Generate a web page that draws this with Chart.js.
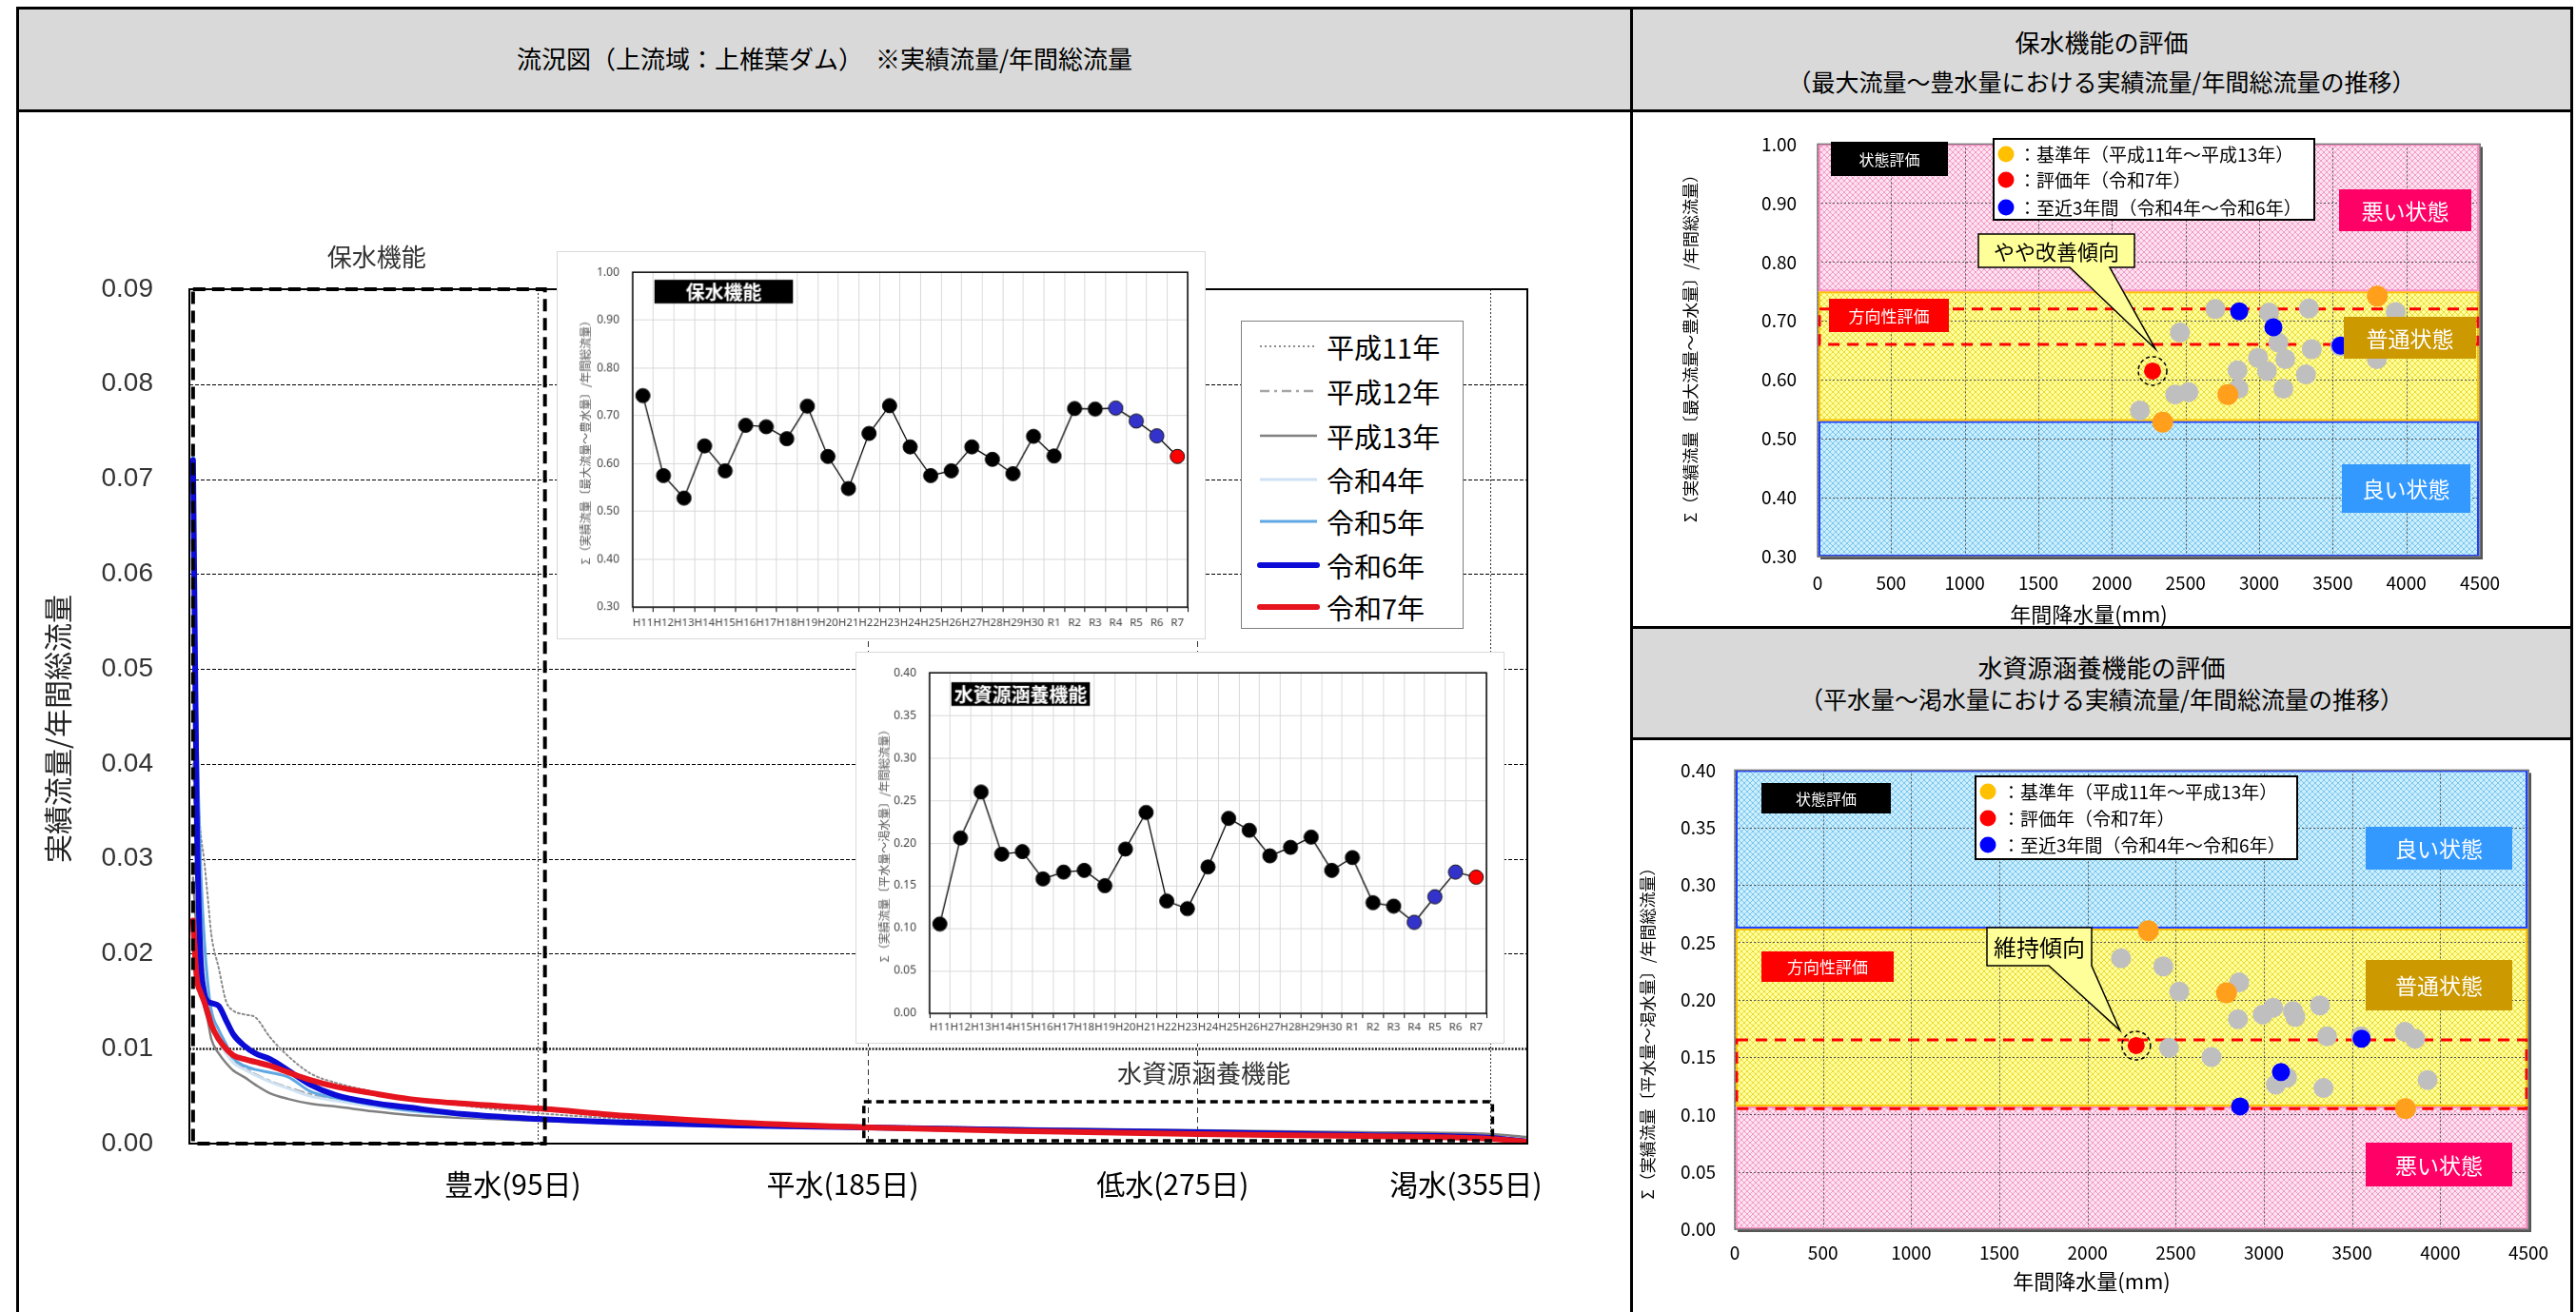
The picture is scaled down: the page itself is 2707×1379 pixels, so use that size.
<!DOCTYPE html>
<html lang="ja">
<head>
<meta charset="utf-8">
<title>流況図（上流域：上椎葉ダム）</title>
<script src="https://cdn.jsdelivr.net/npm/chart.js@4.4.1/dist/chart.umd.min.js"></script>
<style>
  html, body { margin: 0; padding: 0; background: #fff; }
  body { position: relative; width: 2707px; height: 1379px; overflow: hidden; font-family: "Noto Sans CJK JP", sans-serif; color: #000; }
  .box { position: absolute; box-sizing: border-box; }
  .frame { border: 3px solid #000; }
  .head { background: #d9d9d9; border: 3px solid #000; }
  .ttl { position: absolute; left: 0; right: 0; text-align: center; white-space: nowrap; line-height: 1; }
  canvas { position: absolute; }
  .inset { background: #fff; border: 1px solid #d9d9d9; z-index: 2; }
  #flowLegend { position: absolute; left: 1304px; top: 337px; width: 234px; height: 324px; box-sizing: border-box; border: 1px solid #808080; background: #fff; z-index: 2; }
  #flowLegend .row { position: absolute; left: 0; height: 40px; width: 100%; }
  #flowLegend svg { position: absolute; left: 16px; top: 14px; }
  #flowLegend span { position: absolute; left: 89px; top: 2px; font-size: 29px; line-height: 36px; white-space: nowrap; }
</style>
</head>
<body>

<div class="box frame" style="left:17px;top:7px;width:1699px;height:1420px;"></div>
<div class="box frame" style="left:1713px;top:7px;width:991px;height:1420px;"></div>

<div class="box head" style="left:17px;top:7px;width:1699px;height:111px;">
  <div class="ttl" style="top:38px;font-size:26px;">流況図（上流域：上椎葉ダム）　※実績流量/年間総流量</div>
</div>
<div class="box head" style="left:1713px;top:7px;width:991px;height:111px;">
  <div class="ttl" style="top:21px;font-size:26px;">保水機能の評価</div>
  <div class="ttl" style="top:63px;font-size:25px;">（最大流量～豊水量における実績流量/年間総流量の推移）</div>
</div>
<div class="box head" style="left:1713px;top:658px;width:991px;height:120px;">
  <div class="ttl" style="top:27px;font-size:26px;">水資源涵養機能の評価</div>
  <div class="ttl" style="top:61px;font-size:25px;">（平水量～渇水量における実績流量/年間総流量の推移）</div>
</div>

<canvas id="flowChart" width="1690" height="1261" style="left:20px;top:118px;"></canvas>
<div id="flowLegend"></div>
<canvas id="hozuiTrend" class="inset" width="682" height="408" style="left:585px;top:264px;"></canvas>
<canvas id="kanyoTrend" class="inset" width="682" height="412" style="left:899px;top:685px;"></canvas>
<canvas id="hozuiScatter" width="985" height="540" style="left:1716px;top:118px;"></canvas>
<canvas id="kanyoScatter" width="985" height="598" style="left:1716px;top:778px;"></canvas>

<script>
// ---- 流況曲線（実績流量/年間総流量）----
const durationDays = [1, 2, 3, 4, 5, 6, 8, 10, 12, 15, 18, 22, 27, 33, 40, 50, 60, 75, 95, 120, 150, 185, 230, 275, 320, 355, 365];
const flowYears = ['平成11年', '平成12年', '平成13年', '令和4年', '令和5年', '令和6年', '令和7年'];
const flowH11 = [0.050, 0.040, 0.033, 0.030, 0.026, 0.022, 0.0185, 0.0150, 0.0140, 0.0136, 0.0133, 0.0112, 0.0092, 0.0074, 0.0064, 0.0055, 0.0048, 0.0040, 0.0032, 0.0026, 0.0022, 0.0019, 0.0016, 0.0013, 0.0010, 0.0007, 0.0004];
const flowH12 = [0.040, 0.030, 0.022, 0.018, 0.015, 0.013, 0.011, 0.0095, 0.0088, 0.0080, 0.0073, 0.0066, 0.0059, 0.0052, 0.0046, 0.0040, 0.0035, 0.0030, 0.0026, 0.0023, 0.0020, 0.0018, 0.0015, 0.0013, 0.0011, 0.0008, 0.0005];
const flowH13 = [0.028, 0.022, 0.017, 0.0145, 0.013, 0.011, 0.0095, 0.0085, 0.0077, 0.0070, 0.0062, 0.0053, 0.0047, 0.0042, 0.0039, 0.0034, 0.0030, 0.0027, 0.0024, 0.0021, 0.0019, 0.0018, 0.0016, 0.0014, 0.0012, 0.0010, 0.0007];
const flowR4 = [0.068, 0.040, 0.027, 0.020, 0.016, 0.013, 0.011, 0.0095, 0.0085, 0.0078, 0.0072, 0.0065, 0.0058, 0.0050, 0.0045, 0.0039, 0.0034, 0.0029, 0.0025, 0.0021, 0.0018, 0.0016, 0.0014, 0.0012, 0.0010, 0.0007, 0.0004];
const flowR5 = [0.073, 0.045, 0.030, 0.022, 0.017, 0.014, 0.012, 0.0105, 0.0090, 0.0082, 0.0078, 0.0075, 0.0070, 0.0055, 0.0048, 0.0041, 0.0035, 0.0030, 0.0025, 0.0021, 0.0018, 0.0016, 0.0013, 0.0011, 0.0009, 0.0006, 0.0003];
const flowR6 = [0.072, 0.035, 0.020, 0.016, 0.015, 0.0148, 0.0145, 0.0130, 0.0115, 0.0103, 0.0095, 0.0089, 0.0077, 0.0062, 0.0051, 0.0043, 0.0038, 0.0031, 0.0026, 0.0022, 0.0019, 0.0017, 0.0014, 0.0012, 0.0009, 0.0006, 0.0002];
const flowR7 = [0.0235, 0.0175, 0.016, 0.015, 0.0138, 0.0125, 0.011, 0.0100, 0.0093, 0.0089, 0.0086, 0.0082, 0.0075, 0.0067, 0.0060, 0.0053, 0.0047, 0.0042, 0.0037, 0.0029, 0.0022, 0.0017, 0.0013, 0.0010, 0.0008, 0.0005, 0.0002];
const flowSeries = [flowH11, flowH12, flowH13, flowR4, flowR5, flowR6, flowR7];

const flowMarkDays = [95, 185, 275, 355];
const flowMarkNames = ['豊水(95日)', '平水(185日)', '低水(275日)', '渇水(355日)'];

// 評価対象の範囲（日数・比率）
const hozuiWindow = { days: [1, 97], ratio: [0, 0.09], caption: '保水機能' };
const kanyoWindow = { days: [184, 355.5], ratio: [0.0003, 0.0044], caption: '水資源涵養機能' };

// ---- 年別の評価値 ----
const fiscalYears = ['H11', 'H12', 'H13', 'H14', 'H15', 'H16', 'H17', 'H18', 'H19', 'H20', 'H21', 'H22', 'H23', 'H24', 'H25', 'H26', 'H27', 'H28', 'H29', 'H30', 'R1', 'R2', 'R3', 'R4', 'R5', 'R6', 'R7'];
const hozuiRatio = [0.742, 0.575, 0.528, 0.637, 0.585, 0.680, 0.677, 0.652, 0.720, 0.615, 0.548, 0.663, 0.721, 0.635, 0.575, 0.585, 0.635, 0.609, 0.579, 0.657, 0.616, 0.715, 0.714, 0.716, 0.689, 0.658, 0.615];
const kanyoRatio = [0.105, 0.206, 0.260, 0.187, 0.190, 0.158, 0.166, 0.168, 0.150, 0.193, 0.236, 0.132, 0.123, 0.172, 0.229, 0.215, 0.185, 0.195, 0.207, 0.168, 0.183, 0.130, 0.126, 0.107, 0.137, 0.166, 0.160];
const annualRain = [3803, 2788, 2345, 2993, 3165, 2462, 3858, 3358, 2703, 3053, 2190, 3131, 3338, 3800, 2430, 2860, 3178, 3318, 2520, 3550, 2853, 3928, 3068, 2865, 3097, 3554, 2276];

const baseYears = ['H11', 'H12', 'H13'];
const recentYears = ['R4', 'R5', 'R6'];
const evalYear = 'R7';

// 状態評価の境界と方向性評価の帯
const hozuiStateEdges = [0.30, 0.53, 0.75, 1.00];   // 良い | 普通 | 悪い
const hozuiTrendBand = [0.66, 0.72];
const kanyoStateEdges = [0.00, 0.107, 0.262, 0.40]; // 悪い | 普通 | 良い
const kanyoTrendBand = [0.105, 0.165];

const rainTicks = [0, 4500, 500];

Chart.defaults.font.family = '"Noto Sans CJK JP", "Noto Sans", sans-serif';
Chart.defaults.color = '#000';
const JP = '"Noto Sans CJK JP", sans-serif';

function groupOf(yr) {
  if (yr === evalYear) return 'eval';
  if (recentYears.includes(yr)) return 'recent';
  if (baseYears.includes(yr)) return 'base';
  return 'other';
}

function text(ctx, str, x, y, font, color, align) {
  ctx.font = font;
  ctx.fillStyle = color;
  ctx.textAlign = align || 'center';
  ctx.textBaseline = 'middle';
  ctx.fillText(str, x, y);
}

function vText(ctx, str, x, y, font, color) {
  ctx.save();
  ctx.translate(x, y);
  ctx.rotate(-Math.PI / 2);
  text(ctx, str, 0, 0, font, color);
  ctx.restore();
}

// ================= 流況曲線 =================
const flowStyles = [
  { color: '#8c8c8c', width: 2, dash: [2, 3] },
  { color: '#a6a6a6', width: 2.5, dash: [10, 5, 3, 5] },
  { color: '#808080', width: 2.5, dash: [] },
  { color: '#cfe2f3', width: 3, dash: [] },
  { color: '#5fa8e3', width: 3, dash: [] },
  { color: '#0c0cd6', width: 6, dash: [] },
  { color: '#e5141e', width: 6, dash: [] }
];

const flowDeco = {
  id: 'flowDeco',
  beforeDatasetsDraw(chart) {
    const { ctx, chartArea: a, scales: { x, y } } = chart;
    ctx.save();
    y.ticks.forEach(t => {
      if (t.value <= 0.0001 || t.value >= 0.0899) return;
      const py = Math.round(y.getPixelForValue(t.value)) + 0.5;
      const heavy = Math.abs(t.value - 0.01) < 1e-6;
      ctx.strokeStyle = heavy ? '#222' : '#000';
      ctx.lineWidth = heavy ? 2.5 : 1;
      ctx.setLineDash(heavy ? [2, 1.5] : [4, 2]);
      ctx.beginPath(); ctx.moveTo(a.left, py); ctx.lineTo(a.right, py); ctx.stroke();
    });
    flowMarkDays.forEach(d => {
      const px = Math.round(x.getPixelForValue(d)) + 0.5;
      ctx.strokeStyle = '#333';
      ctx.lineWidth = 1;
      ctx.setLineDash(d === 95 || d === 355 ? [2, 2] : [6, 4]);
      ctx.beginPath(); ctx.moveTo(px, a.top); ctx.lineTo(px, a.bottom); ctx.stroke();
    });
    ctx.restore();
  },
  afterDatasetsDraw(chart) {
    const { ctx, chartArea: a, scales: { x, y } } = chart;
    ctx.save();
    ctx.setLineDash([]);
    ctx.strokeStyle = '#000';
    ctx.lineWidth = 2;
    ctx.strokeRect(a.left, a.top, a.width, a.height);

    [[hozuiWindow, 4, [13, 7], 8, -34], [kanyoWindow, 3.5, [8, 5], 27, -30]].forEach(([w, lw, dash, dx, dy]) => {
      const l = x.getPixelForValue(w.days[0]), r = x.getPixelForValue(w.days[1]);
      const t = y.getPixelForValue(w.ratio[1]), b = y.getPixelForValue(w.ratio[0]);
      ctx.strokeStyle = '#000';
      ctx.lineWidth = lw;
      ctx.setLineDash(dash);
      ctx.strokeRect(l, t, r - l, b - t);
      ctx.setLineDash([]);
      text(ctx, w.caption, (l + r) / 2 + dx, t + dy, '26px ' + JP, '#333');
    });
    ctx.restore();
  },
  afterDraw(chart) {
    vText(chart.ctx, '実績流量/年間総流量', 41, 648, '30px ' + JP, '#222');
  }
};

new Chart(document.getElementById('flowChart'), {
  type: 'line',
  data: {
    datasets: flowSeries.map((vals, i) => ({
      label: flowYears[i],
      data: durationDays.map((d, k) => ({ x: d, y: vals[k] })),
      borderColor: flowStyles[i].color,
      borderWidth: flowStyles[i].width,
      borderDash: flowStyles[i].dash,
      borderCapStyle: 'round',
      borderJoinStyle: 'round',
      pointRadius: 0,
      cubicInterpolationMode: 'monotone',
      fill: false,
      order: flowSeries.length - 1 - i
    }))
  },
  options: {
    responsive: false,
    animation: false,
    events: [],
    layout: { padding: { left: 0, top: 186, right: 105, bottom: 0 }, autoPadding: false },
    plugins: { legend: { display: false }, tooltip: { enabled: false } },
    scales: {
      x: {
        type: 'linear', min: 0, max: 365,
        afterBuildTicks: s => { s.ticks = flowMarkDays.map(v => ({ value: v })); },
        ticks: {
          callback: v => flowMarkNames[flowMarkDays.indexOf(v)],
          font: { family: JP, size: 30 }, color: '#000', padding: 25, labelOffset: -26,
          autoSkip: false, maxRotation: 0
        },
        grid: { display: false, drawTicks: false },
        border: { display: false },
        afterFit: s => { s.height = 177; }
      },
      y: {
        min: 0, max: 0.09,
        ticks: {
          stepSize: 0.01, callback: v => v.toFixed(2),
          font: { family: '"Liberation Sans", sans-serif', size: 28 }, color: '#333', padding: 38
        },
        grid: { display: false, drawTicks: false },
        border: { display: false },
        afterFit: s => { s.width = 179; }
      }
    }
  },
  plugins: [flowDeco]
});

// 凡例
(function buildLegend() {
  const box = document.getElementById('flowLegend');
  const rowsY = [6, 53, 100, 146, 190, 236, 280];
  flowYears.forEach((name, i) => {
    const st = flowStyles[i];
    const row = document.createElement('div');
    row.className = 'row';
    row.style.top = rowsY[i] + 'px';
    const cap = st.width >= 5 ? 'round' : 'butt';
    row.innerHTML =
      '<svg width="66" height="12"><line x1="3" y1="6" x2="63" y2="6" stroke="' + st.color +
      '" stroke-width="' + st.width + '" stroke-linecap="' + cap + '" stroke-dasharray="' + (st.dash.join(',') || 'none') +
      '"/></svg><span>' + name + '</span>';
    box.appendChild(row);
  });
})();

// ================= 推移の挿入図 =================
const insetPalette = { base: '#000', other: '#000', recent: '#3333cc', eval: '#ff0000' };

function makeInset(id, values, yMin, yMax, step, tagText, yTitle, geo) {
  const deco = {
    id: 'insetDeco',
    beforeDatasetsDraw(chart) {
      const { ctx, chartArea: a } = chart;
      ctx.save();
      ctx.strokeStyle = '#000';
      ctx.lineWidth = 1.5;
      ctx.strokeRect(a.left, a.top, a.width, a.height);
      ctx.restore();
    },
    afterDatasetsDraw(chart) {
      const { ctx, chartArea: a } = chart;
      ctx.save();
      ctx.fillStyle = '#000';
      ctx.fillRect(a.left + geo.tagDx, a.top + geo.tagDy, 146, 25);
      text(ctx, tagText, a.left + geo.tagDx + 73, a.top + geo.tagDy + 13, 'bold 20px ' + JP, '#fff');
      vText(ctx, yTitle, 29, (a.top + a.bottom) / 2, '12px ' + JP, '#595959');
      ctx.restore();
    }
  };
  return new Chart(document.getElementById(id), {
    type: 'line',
    data: {
      labels: fiscalYears,
      datasets: [{
        data: values,
        borderColor: '#000',
        borderWidth: 1.3,
        pointRadius: 7.5,
        pointBackgroundColor: fiscalYears.map(yr => insetPalette[groupOf(yr)]),
        pointBorderColor: '#111',
        pointBorderWidth: 1,
        tension: 0
      }]
    },
    options: {
      responsive: false,
      animation: false,
      events: [],
      layout: { padding: { left: 0, top: geo.top, right: geo.right, bottom: 0 }, autoPadding: false },
      plugins: { legend: { display: false }, tooltip: { enabled: false } },
      scales: {
        x: {
          offset: true,
          grid: { offset: true, color: '#d9d9d9', tickColor: '#000', tickLength: 5 },
          border: { display: false },
          ticks: { font: { family: '"Noto Sans", sans-serif', size: 11.5 }, color: '#404040', padding: geo.xPad, autoSkip: false, maxRotation: 0 },
          afterFit: s => { s.height = geo.xH; }
        },
        y: {
          min: yMin, max: yMax,
          ticks: { stepSize: step, callback: v => v.toFixed(2), font: { family: '"Noto Sans", sans-serif', size: 12 }, color: '#404040', padding: 14 },
          grid: { color: '#d9d9d9', drawTicks: false },
          border: { display: false },
          afterFit: s => { s.width = geo.yW; }
        }
      }
    },
    plugins: [deco]
  });
}

makeInset('hozuiTrend', hozuiRatio, 0.30, 1.00, 0.10, '保水機能', 'Σ（実績流量〔最大流量～豊水量〕/年間総流量）',
  { top: 15, right: 18, xH: 33, yW: 79, xPad: 5, tagDx: 23, tagDy: 8 });
makeInset('kanyoTrend', kanyoRatio, 0.00, 0.40, 0.05, '水資源涵養機能', 'Σ（実績流量〔平水量～渇水量〕/年間総流量）',
  { top: 17, right: 18, xH: 31, yW: 77, xPad: 3, tagDx: 23, tagDy: 10 });

// ================= 降水量との散布図 =================
const zoneStyle = {
  bad: { bg: '#fde3f0', fg: '#f29bc7', border: '#ff8fc7' },
  normal: { bg: '#ffff9e', fg: '#ebdb3a', border: '#ffc000' },
  good: { bg: '#cdeefc', fg: '#7bc7ef', border: '#1f3fff' }
};
const scatterGroups = [
  { key: 'other', color: '#bfbfbf', r: 10.5, order: 3 },
  { key: 'base', color: '#ff9f1c', r: 11, order: 2 },
  { key: 'recent', color: '#0000ff', r: 9.5, order: 1 },
  { key: 'eval', color: '#ff0000', r: 9, order: 0 }
];
const legendItems = [
  { color: '#ffc000', label: '：基準年（平成11年～平成13年）' },
  { color: '#ff0000', label: '：評価年（令和7年）' },
  { color: '#0000ff', label: '：至近3年間（令和4年～令和6年）' }
];

function hatch(ctx, bg, fg) {
  const c = document.createElement('canvas');
  c.width = 6; c.height = 6;
  const g = c.getContext('2d');
  g.fillStyle = bg; g.fillRect(0, 0, 6, 6);
  g.strokeStyle = fg; g.lineWidth = 1;
  g.beginPath(); g.moveTo(0, 0); g.lineTo(6, 6); g.moveTo(6, 0); g.lineTo(0, 6); g.stroke();
  return ctx.createPattern(c, 'repeat');
}

function tagBox(ctx, b) {
  ctx.fillStyle = b.bg;
  ctx.fillRect(b.x, b.y, b.w, b.h);
  if (b.stroke) { ctx.strokeStyle = b.stroke; ctx.lineWidth = 1.5; ctx.strokeRect(b.x, b.y, b.w, b.h); }
  text(ctx, b.text, b.x + b.w / 2, b.y + b.h / 2 + 1, b.size + 'px ' + JP, b.color);
}

function makeScatter(id, values, edges, zones, trend, yStep, cfg) {
  const evalIdx = scatterGroups.findIndex(g => g.key === 'eval');
  const deco = {
    id: 'scatterDeco',
    beforeDatasetsDraw(chart) {
      const { ctx, chartArea: a, scales: { x, y } } = chart;
      ctx.save();
      const spans = zones.map((z, i) => ({ z, top: y.getPixelForValue(edges[i + 1]), bot: y.getPixelForValue(edges[i]) }));
      spans.forEach(s => {
        ctx.fillStyle = hatch(ctx, zoneStyle[s.z].bg, zoneStyle[s.z].fg);
        ctx.fillRect(a.left, s.top, a.width, s.bot - s.top);
      });
      ctx.strokeStyle = '#555';
      ctx.lineWidth = 1;
      ctx.setLineDash([2, 2]);
      x.ticks.forEach(t => {
        const px = Math.round(x.getPixelForValue(t.value)) + 0.5;
        ctx.beginPath(); ctx.moveTo(px, a.top); ctx.lineTo(px, a.bottom); ctx.stroke();
      });
      y.ticks.forEach(t => {
        const py = Math.round(y.getPixelForValue(t.value)) + 0.5;
        ctx.beginPath(); ctx.moveTo(a.left, py); ctx.lineTo(a.right, py); ctx.stroke();
      });
      ctx.setLineDash([]);
      ctx.lineWidth = 2;
      spans.forEach(s => {
        ctx.strokeStyle = zoneStyle[s.z].border;
        ctx.strokeRect(a.left + 2, s.top + 1, a.width - 4, s.bot - s.top - 2);
      });
      const t1 = y.getPixelForValue(trend[1]), t0 = y.getPixelForValue(trend[0]);
      ctx.strokeStyle = '#ff0000';
      ctx.lineWidth = 3;
      ctx.setLineDash([12, 8]);
      ctx.strokeRect(a.left + 2, t1, a.width - 4, t0 - t1);
      ctx.setLineDash([]);
      ctx.fillStyle = '#555';
      ctx.fillRect(a.right, a.top + 3, 3, a.height);
      ctx.fillRect(a.left + 3, a.bottom, a.width, 3);
      ctx.strokeStyle = '#7a7a7a';
      ctx.lineWidth = 1.5;
      ctx.strokeRect(a.left, a.top, a.width, a.height);
      ctx.restore();
    },
    afterDatasetsDraw(chart) {
      const { ctx } = chart;
      const p = chart.getDatasetMeta(evalIdx).data[0];
      ctx.save();
      // 評価年の丸囲み
      ctx.strokeStyle = '#000';
      ctx.lineWidth = 1.5;
      ctx.setLineDash([4, 3]);
      ctx.beginPath(); ctx.arc(p.x, p.y, 15, 0, Math.PI * 2); ctx.stroke();
      ctx.setLineDash([]);
      // 吹き出し
      const c = cfg.callout;
      const tipX = p.x + c.dx, tipY = p.y + c.dy;
      ctx.beginPath();
      ctx.moveTo(c.x, c.y);
      ctx.lineTo(c.x + c.w, c.y);
      ctx.lineTo(c.x + c.w, c.y + c.h);
      ctx.lineTo(c.baseR, c.y + c.h);
      ctx.lineTo(tipX, tipY);
      ctx.lineTo(c.baseL, c.y + c.h);
      ctx.lineTo(c.x, c.y + c.h);
      ctx.closePath();
      ctx.fillStyle = '#ffff99';
      ctx.fill();
      ctx.strokeStyle = '#000';
      ctx.lineWidth = 1.5;
      ctx.stroke();
      text(ctx, c.text, c.x + c.w / 2, c.y + c.h / 2 + 1, c.size + 'px ' + JP, '#000');
      // ラベル
      cfg.tags.forEach(b => tagBox(ctx, b));
      // 凡例
      const L = cfg.legend;
      ctx.fillStyle = '#fff';
      ctx.fillRect(L.x, L.y, L.w, L.h);
      ctx.strokeStyle = '#000';
      ctx.lineWidth = 2;
      ctx.strokeRect(L.x, L.y, L.w, L.h);
      legendItems.forEach((it, i) => {
        ctx.fillStyle = it.color;
        ctx.beginPath(); ctx.arc(L.dotX, L.rows[i], 8.5, 0, Math.PI * 2); ctx.fill();
        text(ctx, it.label, L.textX, L.rows[i] + 1, '19px ' + JP, '#000', 'left');
      });
      // 軸タイトル
      text(ctx, '年間降水量(mm)', cfg.xTitle[0], cfg.xTitle[1], '22px ' + JP, '#000');
      vText(ctx, cfg.yTitle.text, cfg.yTitle.x, cfg.yTitle.y, '17px ' + JP, '#000');
      ctx.restore();
    }
  };

  return new Chart(document.getElementById(id), {
    type: 'scatter',
    data: {
      datasets: scatterGroups.map(g => ({
        label: g.key,
        data: fiscalYears.map((yr, i) => ({ x: annualRain[i], y: values[i], yr }))
          .filter(pt => groupOf(pt.yr) === g.key),
        backgroundColor: g.color,
        borderWidth: 0,
        pointRadius: g.r,
        order: g.order
      }))
    },
    options: {
      responsive: false,
      animation: false,
      events: [],
      layout: { padding: { left: 0, top: cfg.pad.top, right: cfg.pad.right, bottom: 0 }, autoPadding: false },
      plugins: { legend: { display: false }, tooltip: { enabled: false } },
      scales: {
        x: {
          type: 'linear', min: rainTicks[0], max: rainTicks[1],
          ticks: { stepSize: rainTicks[2], callback: v => String(v), font: { family: JP, size: 19 }, color: '#000', padding: cfg.pad.xTick },
          grid: { display: false, drawTicks: false },
          border: { display: false },
          afterFit: s => { s.height = cfg.pad.xH; }
        },
        y: {
          min: edges[0], max: edges[edges.length - 1],
          ticks: { stepSize: yStep, callback: v => v.toFixed(2), font: { family: JP, size: 19 }, color: '#000', padding: cfg.pad.yTick },
          grid: { display: false, drawTicks: false },
          border: { display: false },
          afterFit: s => { s.width = cfg.pad.yW; }
        }
      }
    },
    plugins: [deco]
  });
}

makeScatter('hozuiScatter', hozuiRatio, hozuiStateEdges, ['good', 'normal', 'bad'], hozuiTrendBand, 0.10, {
  pad: { top: 18, right: 95, xH: 73, yW: 194, xTick: 16, yTick: 22 },
  tags: [
    { x: 208, y: 31, w: 123, h: 36, bg: '#000', color: '#fff', text: '状態評価', size: 16 },
    { x: 206, y: 196, w: 126, h: 35, bg: '#ff0000', color: '#fff', text: '方向性評価', size: 17 },
    { x: 742, y: 81, w: 139, h: 44, bg: '#ff0066', color: '#fff', text: '悪い状態', size: 23 },
    { x: 747, y: 215, w: 139, h: 44, bg: '#cc9900', color: '#fff', text: '普通状態', size: 23 },
    { x: 745, y: 370, w: 135, h: 51, bg: '#3399ff', color: '#fff', text: '良い状態', size: 23 }
  ],
  callout: { x: 363, y: 128, w: 164, h: 35, text: 'やや改善傾向', size: 22, baseL: 459, baseR: 501, dx: 3, dy: -23 },
  legend: { x: 379, y: 28, w: 337, h: 85, rows: [44, 71, 100], dotX: 392, textX: 405 },
  xTitle: [479, 528],
  yTitle: { x: 61, y: 244, text: 'Σ（実績流量〔最大流量～豊水量〕/年間総流量）' }
});

makeScatter('kanyoScatter', kanyoRatio, kanyoStateEdges, ['bad', 'normal', 'good'], kanyoTrendBand, 0.05, {
  pad: { top: 31, right: 44, xH: 84, yW: 107, xTick: 13, yTick: 20 },
  tags: [
    { x: 135, y: 45, w: 136, h: 32, bg: '#000', color: '#fff', text: '状態評価', size: 16 },
    { x: 135, y: 222, w: 139, h: 32, bg: '#ff0000', color: '#fff', text: '方向性評価', size: 17 },
    { x: 770, y: 91, w: 154, h: 45, bg: '#3399ff', color: '#fff', text: '良い状態', size: 23 },
    { x: 770, y: 231, w: 154, h: 53, bg: '#cc9900', color: '#fff', text: '普通状態', size: 23 },
    { x: 770, y: 423, w: 154, h: 46, bg: '#ff0066', color: '#fff', text: '悪い状態', size: 23 }
  ],
  callout: { x: 372, y: 197, w: 110, h: 40, text: '維持傾向', size: 24, baseL: 437, baseR: 482, dx: -17, dy: -16 },
  legend: { x: 360, y: 38, w: 338, h: 87, rows: [54, 82, 110], dotX: 373, textX: 388 },
  xTitle: [482, 569],
  yTitle: { x: 16, y: 304, text: 'Σ（実績流量〔平水量～渇水量〕/年間総流量）' }
});
</script>
</body>
</html>
